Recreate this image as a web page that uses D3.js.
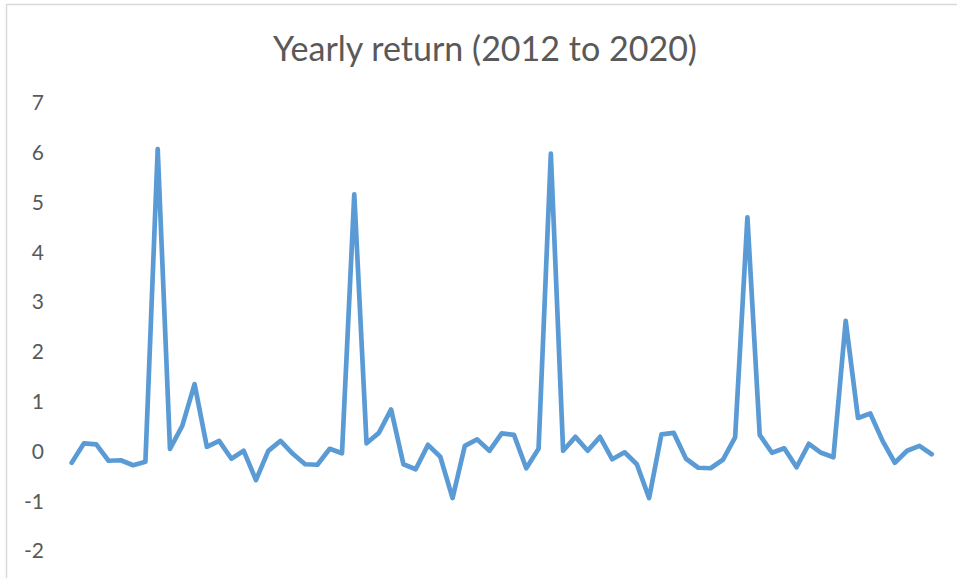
<!DOCTYPE html>
<html>
<head>
<meta charset="utf-8">
<script src="https://cdn.jsdelivr.net/npm/d3@7"></script>
<style>
  html, body { margin: 0; padding: 0; background: #fff; }
  svg { display: block; }
</style>
</head>
<body>
<svg id="chart" width="957" height="578"></svg>
<script>
// ---- data ----
const title = "Yearly return (2012 to 2020)";
const returns = [
  -0.24, 0.15, 0.13, -0.20, -0.19, -0.29, -0.22, 6.06, 0.04, 0.50,
  1.34, 0.08, 0.20, -0.16, 0.00, -0.59, 0.00, 0.20, -0.06, -0.27,
  -0.28, 0.04, -0.05, 5.15, 0.15, 0.36, 0.83, -0.27, -0.37, 0.12,
  -0.12, -0.95, 0.10, 0.23, 0.00, 0.35, 0.32, -0.35, 0.04, 5.97,
  0.00, 0.28, 0.00, 0.28, -0.17, -0.03, -0.27, -0.95, 0.33, 0.36,
  -0.16, -0.34, -0.35, -0.18, 0.27, 4.69, 0.32, -0.04, 0.05, -0.33,
  0.14, -0.04, -0.13, 2.61, 0.66, 0.75, 0.20, -0.24, 0.00, 0.10,
  -0.07
];
const periods = d3.range(1, returns.length + 1);
const yTicks = [-2, -1, 0, 1, 2, 3, 4, 5, 6, 7];

// ---- layout ----
const svg = d3.select("#chart");
const font = "Lato, 'Open Sans', 'DejaVu Sans', sans-serif";
const textColor = "#595959";

// chart border
svg.append("rect")
  .attr("x", 6.5).attr("y", 4.5)
  .attr("width", 960).attr("height", 590)
  .attr("fill", "#fff")
  .attr("stroke", "#d9d9d9")
  .attr("stroke-width", 1.5);

const x = d3.scalePoint()
  .domain(periods)
  .range([71.7, 931.7]);

const y = d3.scaleLinear()
  .domain([-2, 7])
  .range([550.4, 102.2]);

// y axis (labels only)
const yAxis = svg.append("g")
  .attr("transform", "translate(50,0)")
  .call(d3.axisLeft(y).tickValues(yTicks).tickSize(0).tickPadding(6).tickFormat(d => String(d)));
yAxis.select(".domain").remove();
yAxis.selectAll("text")
  .attr("fill", textColor)
  .style("font-family", font)
  .style("font-size", "21px")
  .attr("dy", "0.36em");

// line
const line = d3.line()
  .x((d, i) => x(periods[i]))
  .y(d => y(d));

svg.append("path")
  .datum(returns)
  .attr("d", line)
  .attr("fill", "none")
  .attr("stroke", "#5b9bd5")
  .attr("stroke-width", 4.7)
  .attr("stroke-linejoin", "round")
  .attr("stroke-linecap", "round");

// title
const t = svg.append("text")
  .attr("x", 485)
  .attr("y", 60.5)
  .attr("text-anchor", "middle")
  .attr("fill", textColor)
  .style("font-family", font)
  .style("font-size", "36px")
  .text(title);
// fit title width to reference (~424px)
const w = t.node().getComputedTextLength();
if (w > 0) t.style("font-size", (36 * 424 / w).toFixed(2) + "px");
</script>
</body>
</html>
